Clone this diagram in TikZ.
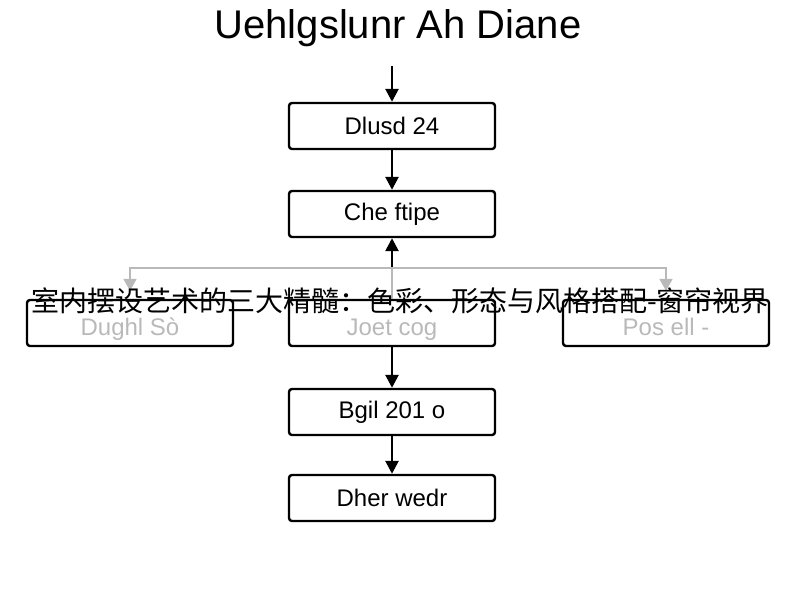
\documentclass[tikz,border=0pt]{standalone}
\usepackage{fontspec}
\setmainfont{Liberation Sans}
\newfontfamily\cjk{Noto Sans CJK SC}
\usetikzlibrary{arrows.meta}

\tikzset{
    stepbox/.style={draw=black, line width=2.4pt, rounded corners=3pt, minimum width=206pt, minimum height=46pt, font=\fontsize{24}{26}\selectfont},
    fadebox/.style={stepbox, text=gray!55, text height=24pt, text depth=0pt},
    flow/.style={-{Triangle[length=13pt,width=13pt]}, line width=2.6pt, black},
    branch/.style={-{Triangle[length=12pt,width=13pt]}, line width=2pt, gray!55}
}

\begin{document}
\begin{tikzpicture}[x=1pt, y=-1pt]
            \useasboundingbox (0,0) rectangle (800,600);
            % Title
            \node[font=\fontsize{40}{42}\selectfont] (title) at (398,28) {Uehlgslunr Ah Diane};
            \coordinate (top) at (392,66);

            % Main column
            \node[stepbox] (box-1) at (392,126) {Dlusd 24};
            \node[stepbox] (box-2) at (392,214) {Che ftipe};
            \node[fadebox] (box-3) at (130,323) {Dughl Sò};
            \node[fadebox] (box-4) at (392,323) {Joet cog};
            \node[fadebox] (box-5) at (666,323) {Pos ell -};
            \node[stepbox] (box-6) at (392,412) {Bgil 201 o};
            \node[stepbox] (box-7) at (392,498) {Dher wedr};

            % Connectors
            \coordinate (split) at (392,268);
            \draw[flow] (top) -- (box-1);
            \draw[flow] (box-1) -- (box-2);
            \draw[line width=2pt, gray!55] (box-4.north) -- (split);
            \draw[flow] (split) -- (box-2);
            \draw[branch] (split) -| ([yshift=8pt]box-3.north);
            \draw[branch] (split) -| ([yshift=8pt]box-5.north);
            \draw[flow] (box-4) -- (box-6);
            \draw[flow] (box-6) -- (box-7);

            % Overlay caption
            \node[font=\cjk\fontsize{28}{30}\selectfont, inner sep=0pt] (caption) at (400,301) {室内摆设艺术的三大精髓：色彩、形态与风格搭配-窗帘视界};
        \end{tikzpicture}
\end{document}
